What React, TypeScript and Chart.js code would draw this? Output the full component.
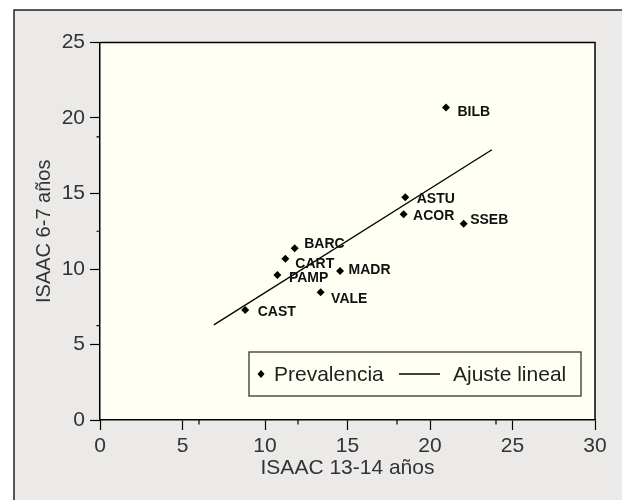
import React, { useEffect, useRef } from 'react';
import { Chart, registerables } from 'chart.js';

Chart.register(...registerables);

// ---- data ----
const centres = ['CAST', 'PAMP', 'CART', 'BARC', 'VALE', 'MADR', 'ACOR', 'ASTU', 'SSEB', 'BILB'];
const isaac1314 = [8.8, 10.75, 11.23, 11.8, 13.37, 14.55, 18.4, 18.5, 22.04, 20.97];
const isaac67 = [7.28, 9.6, 10.68, 11.37, 8.46, 9.87, 13.62, 14.75, 13.0, 20.7];
const fitX = [6.9, 23.75];
const fitY = [6.3, 17.9];
const xMinorTicks = [6, 12, 18, 24];
const yMinorTicks = [6.25, 12.5, 18.75];
const legendLabels = ['Prevalencia', 'Ajuste lineal'];
const xTitle = 'ISAAC 13-14 años';
const yTitle = 'ISAAC 6-7 años';

const FONT = '"Liberation Sans", Arial, Helvetica, sans-serif';

// label nudges (dx, dy to baseline) relative to each marker
const labelNudge: Record<string, [number, number]> = {
  CAST: [12.5, 6],
  PAMP: [11.5, 6.5],
  CART: [10, 9],
  BARC: [9.5, 0],
  VALE: [10.5, 11],
  MADR: [8.5, 3.5],
  ACOR: [9.5, 5.5],
  ASTU: [11.5, 6],
  SSEB: [6.5, 0],
  BILB: [11.5, 8.5],
};

const backgroundPlugin = {
  id: 'bgFrame',
  beforeDraw(chart: any) {
    const { ctx, chartArea, width, height } = chart;
    ctx.save();
    ctx.fillStyle = '#ffffff';
    ctx.fillRect(0, 0, width, height);
    ctx.fillStyle = '#ebeae8';
    ctx.fillRect(14, 10, width - 14, height - 10);
    ctx.strokeStyle = '#222';
    ctx.lineWidth = 1.5;
    ctx.beginPath();
    ctx.moveTo(14, height);
    ctx.lineTo(14, 10);
    ctx.lineTo(width, 10);
    ctx.stroke();
    ctx.fillStyle = '#fffff3';
    ctx.fillRect(chartArea.left, chartArea.top, chartArea.right - chartArea.left, chartArea.bottom - chartArea.top);
    ctx.restore();
  },
};

const decorPlugin = {
  id: 'decor',
  afterDraw(chart: any) {
    const { ctx, chartArea, scales } = chart;
    const xs = scales.x;
    const ys = scales.y;
    ctx.save();
    // plot frame top/right
    ctx.strokeStyle = '#000';
    ctx.lineWidth = 1.5;
    ctx.beginPath();
    ctx.moveTo(chartArea.left, chartArea.top);
    ctx.lineTo(chartArea.right, chartArea.top);
    ctx.lineTo(chartArea.right, chartArea.bottom);
    ctx.stroke();
    // minor ticks
    ctx.lineWidth = 1.2;
    ctx.beginPath();
    xMinorTicks.forEach((v) => {
      const px = xs.getPixelForValue(v);
      ctx.moveTo(px, chartArea.bottom);
      ctx.lineTo(px, chartArea.bottom + 4.5);
    });
    yMinorTicks.forEach((v) => {
      const py = ys.getPixelForValue(v);
      ctx.moveTo(chartArea.left, py);
      ctx.lineTo(chartArea.left - 3.5, py);
    });
    ctx.stroke();

    // point labels
    const meta = chart.getDatasetMeta(0);
    ctx.fillStyle = '#111';
    ctx.font = `bold 14px ${FONT}`;
    ctx.textAlign = 'left';
    ctx.textBaseline = 'alphabetic';
    meta.data.forEach((pt: any, i: number) => {
      const name = centres[i];
      const [dx, dy] = labelNudge[name] || [10, 6];
      ctx.fillText(name, pt.x + dx, pt.y + dy);
    });

    // legend box
    const bx = chartArea.right - 346;
    const by = chartArea.bottom - 68;
    const bw = 332;
    const bh = 44;
    ctx.fillStyle = '#fffff3';
    ctx.fillRect(bx, by, bw, bh);
    ctx.strokeStyle = '#333';
    ctx.lineWidth = 1.3;
    ctx.strokeRect(bx, by, bw, bh);
    const cy = by + bh / 2;
    // diamond
    ctx.fillStyle = '#000';
    ctx.beginPath();
    ctx.moveTo(bx + 12, cy - 4);
    ctx.lineTo(bx + 15.5, cy);
    ctx.lineTo(bx + 12, cy + 4);
    ctx.lineTo(bx + 8.5, cy);
    ctx.closePath();
    ctx.fill();
    ctx.font = `21px ${FONT}`;
    ctx.fillStyle = '#222';
    ctx.textBaseline = 'middle';
    ctx.fillText(legendLabels[0], bx + 25, cy + 1);
    ctx.strokeStyle = '#000';
    ctx.lineWidth = 1.3;
    ctx.beginPath();
    ctx.moveTo(bx + 150, cy);
    ctx.lineTo(bx + 191, cy);
    ctx.stroke();
    ctx.fillText(legendLabels[1], bx + 204, cy + 1);
    ctx.restore();
  },
};

export default function App() {
  const ref = useRef<HTMLCanvasElement | null>(null);
  useEffect(() => {
    if (!ref.current) return;
    const pts = centres.map((_, i) => ({ x: isaac1314[i], y: isaac67[i] }));
    const line = fitX.map((x, i) => ({ x, y: fitY[i] }));
    const chart = new Chart(ref.current, {
      type: 'scatter',
      data: {
        datasets: [
          {
            label: legendLabels[0],
            data: pts,
            pointStyle: 'rectRot',
            pointRadius: 4,
            pointHoverRadius: 4,
            backgroundColor: '#000',
            borderColor: '#000',
            borderWidth: 0,
          },
          {
            label: legendLabels[1],
            data: line,
            showLine: true,
            pointRadius: 0,
            borderColor: '#000',
            borderWidth: 1.3,
            fill: false,
          },
        ],
      },
      options: {
        responsive: false,
        animation: false,
        layout: { padding: { top: 42.5, right: 27, left: 0, bottom: 0 } },
        plugins: { legend: { display: false }, tooltip: { enabled: false } },
        scales: {
          x: {
            type: 'linear',
            min: 0,
            max: 30,
            afterFit: (s: any) => {
              s.height = 80;
            },
            ticks: { stepSize: 5, color: '#333', font: { family: FONT, size: 21 }, padding: 4 },
            grid: { drawOnChartArea: false, tickLength: 10, color: '#000', tickWidth: 1.2 },
            border: { color: '#000', width: 1.5 },
            title: {
              display: true,
              text: xTitle,
              color: '#333',
              font: { family: FONT, size: 21 },
              padding: { top: 0, bottom: 19 },
            },
          },
          y: {
            type: 'linear',
            min: 0,
            max: 25,
            afterFit: (s: any) => {
              s.width = 100;
            },
            ticks: { stepSize: 5, color: '#333', font: { family: FONT, size: 21 }, padding: 5 },
            grid: { drawOnChartArea: false, tickLength: 10, color: '#000', tickWidth: 1.2 },
            border: { color: '#000', width: 1.5 },
            title: {
              display: true,
              text: yTitle,
              color: '#333',
              font: { family: FONT, size: 20 },
              padding: { top: 32.5, bottom: 0 },
            },
          },
        },
      },
      plugins: [backgroundPlugin, decorPlugin],
    });
    return () => chart.destroy();
  }, []);
  return (
    <div style={{ position: 'fixed', left: 0, top: 0, width: 622, height: 500 }}>
      <canvas ref={ref} width={622} height={500} />
    </div>
  );
}
